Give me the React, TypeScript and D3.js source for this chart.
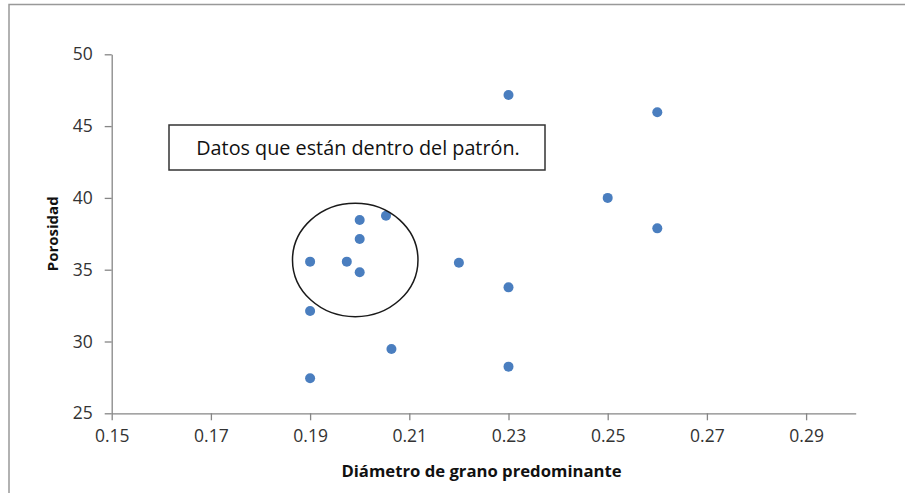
// @ts-nocheck
import React, { useEffect, useRef } from 'react'
import * as d3 from 'd3'

const diametro = [0.19, 0.1974, 0.2, 0.2, 0.2, 0.2053, 0.19, 0.19, 0.2064, 0.22, 0.23, 0.23, 0.23, 0.25, 0.26, 0.26]
const porosidad = [35.56, 35.56, 38.46, 37.14, 34.82, 38.76, 32.12, 27.44, 29.48, 35.49, 33.77, 28.25, 47.17, 40.0, 45.96, 37.88]

const xTicks = [0.15, 0.17, 0.19, 0.21, 0.23, 0.25, 0.27, 0.29]
const yTicks = [25, 30, 35, 40, 45, 50]

// the circle drawn round the grouped points (centre and radii in data units)
const ring = { cx: 0.1991, cy: 35.68, rx: 0.01265, ry: 3.95 }
const note = 'Datos que están dentro del patrón.'

const width = 905
const height = 493
const left = 111.7
const right = 855.7
const top = 54.3
const bottom = 413.3

const font = '"Open Sans", "Noto Sans", sans-serif'

const XAxis = ({ scale }) => {
  const axis = useRef(null)

  useEffect(() => {
    const g = d3.select(axis.current)
    g.call(d3.axisBottom(scale).tickValues(xTicks).tickSize(7).tickSizeOuter(0).tickPadding(9).tickFormat(d3.format('.2f')))
    g.select('.domain').attr('stroke', '#868686').attr('stroke-width', 1.3)
    g.selectAll('.tick line').attr('stroke', '#868686').attr('stroke-width', 1.3)
    g.selectAll('.tick text')
      .attr('fill', '#333')
      .attr('font-family', font)
      .attr('font-size', 17.5)
  })

  return <g ref={axis} transform={`translate(0, ${bottom})`} />
}

const YAxis = ({ scale }) => {
  const axis = useRef(null)

  useEffect(() => {
    const g = d3.select(axis.current)
    g.call(d3.axisLeft(scale).tickValues(yTicks).tickSize(7).tickSizeOuter(0).tickPadding(12))
    g.select('.domain').attr('stroke', '#868686').attr('stroke-width', 1.3)
    g.selectAll('.tick line').attr('stroke', '#868686').attr('stroke-width', 1.3)
    g.selectAll('.tick text')
      .attr('fill', '#333')
      .attr('font-family', font)
      .attr('font-size', 17.5)
  })

  return <g ref={axis} transform={`translate(${left}, 0)`} />
}

const App = () => {
  const x = d3.scaleLinear().domain([0.15, 0.3]).range([left, right])
  const y = d3.scaleLinear().domain([25, 50]).range([bottom, top])

  const data = diametro.map((d, i) => ({ x: d, y: porosidad[i] }))

  return (
    <svg width={width} height={height} style={{ position: 'absolute', left: 0, top: 0 }}>
      <rect x={0} y={0} width={width} height={height} fill="#fff" />
      <rect x={9} y={4.5} width={width + 10} height={height + 10} fill="none" stroke="#999" strokeWidth={1.5} />

      <XAxis scale={x} />
      <YAxis scale={y} />

      {data.map((d, i) => (
        <circle key={i} cx={x(d.x)} cy={y(d.y)} r={5} fill="#4a7ebf" />
      ))}

      <ellipse
        cx={x(ring.cx)}
        cy={y(ring.cy)}
        rx={x(ring.cx + ring.rx) - x(ring.cx)}
        ry={y(ring.cy - ring.ry) - y(ring.cy)}
        fill="none"
        stroke="#1a1a1a"
        strokeWidth={1.5}
      />

      <rect x={169} y={125} width={376} height={45} fill="#fff" stroke="#333" strokeWidth={1.5} />
      <text x={358} y={155} textAnchor="middle" fontFamily={font} fontSize={19.8} fill="#111">
        {note}
      </text>

      <text
        x={481.5}
        y={477}
        textAnchor="middle"
        fontFamily={font}
        fontSize={16.7}
        fontWeight="bold"
        fill="#111"
      >
        Diámetro de grano predominante
      </text>
      <text
        transform={`translate(58, ${(top + bottom) / 2}) rotate(-90)`}
        textAnchor="middle"
        fontFamily={font}
        fontSize={15}
        fontWeight="bold"
        fill="#111"
      >
        Porosidad
      </text>
    </svg>
  )
}

export default App
